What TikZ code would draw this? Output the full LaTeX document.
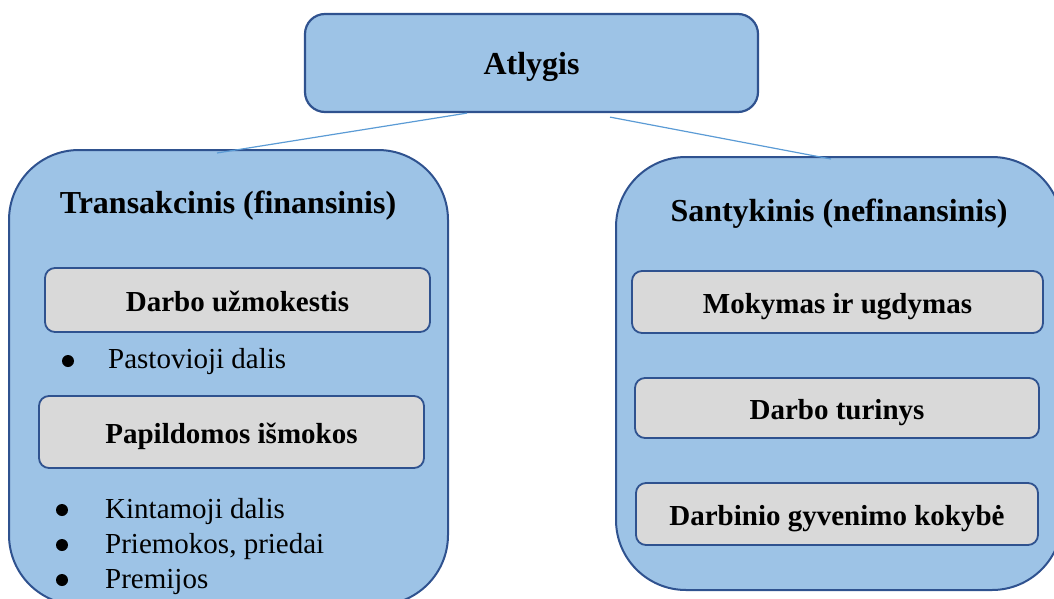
\documentclass[tikz,border=0pt]{standalone}
\usepackage{fontspec}
\setmainfont{Liberation Serif}
\usetikzlibrary{calc}
\definecolor{panelblue}{HTML}{9DC3E6}
\definecolor{edgeblue}{HTML}{2F528F}
\definecolor{linkblue}{HTML}{5B9BD5}
\definecolor{itemgray}{HTML}{D9D9D9}
\tikzset{
  panel/.style={draw=edgeblue, line width=2pt, fill=panelblue, rounded corners=70pt, inner sep=0pt},
  headbox/.style={draw=edgeblue, line width=2.2pt, fill=panelblue, rounded corners=20pt, inner sep=0pt,
    font=\fontsize{32}{38}\selectfont\bfseries, text height=24pt, text depth=0pt},
  itembox/.style={draw=edgeblue, line width=1.8pt, fill=itemgray, rounded corners=10pt, inner sep=0pt,
    font=\fontsize{29}{35}\selectfont\bfseries, text height=22pt, text depth=0pt},
  paneltitle/.style={anchor=base, inner sep=0pt, font=\fontsize{32}{38}\selectfont\bfseries},
  bulletmark/.style={circle, fill=black, inner sep=0pt, minimum size=12pt},
  bullettext/.style={anchor=base west, inner sep=0pt, font=\fontsize{29}{35}\selectfont},
  link/.style={draw=linkblue, line width=1.2pt}
}
\begin{document}
\begin{tikzpicture}[x=1pt, y=-1pt]
  \useasboundingbox (0,0) rectangle (1054,599);
  \clip (0,0) rectangle (1054,599);

  % top heading
  \node[headbox, minimum width=453pt, minimum height=98pt] (top) at (531.5,63) {Atlygis};

  % two large panels
  \node[panel, minimum width=439pt, minimum height=455pt] (left) at (228.5,377.5) {};
  \node[panel, minimum width=446pt, minimum height=433pt] (right) at (839,373.5) {};

  % connectors from the heading to the panels
  \draw[link] ($(top.south)+(-64.5,0)$) -- ($(left.north)+(-11.5,4)$);
  \draw[link] ($(top.south)+(78.5,4)$) -- ($(right.north)+(-8,3)$);

  % left panel: financial reward
  \node[paneltitle] (ltitle) at (228,213) {Transakcinis (finansinis)};
  \node[itembox, minimum width=385pt, minimum height=64pt] (pay) at (237.5,300) {Darbo užmokestis};
  \node[bulletmark] (b1) at (68,361) {};
  \node[bullettext] (t1) at (108,368) {Pastovioji dalis};
  \node[itembox, minimum width=385pt, minimum height=72pt] (extra) at (231.5,432) {Papildomos išmokos};
  \node[bulletmark] (b2) at (62,510) {};
  \node[bullettext] (t2) at (105,518) {Kintamoji dalis};
  \node[bulletmark] (b3) at (62,545) {};
  \node[bullettext] (t3) at (105,553) {Priemokos, priedai};
  \node[bulletmark] (b4) at (62,580) {};
  \node[bullettext] (t4) at (105,588) {Premijos};

  % right panel: non-financial reward
  \node[paneltitle] (rtitle) at (839,221) {Santykinis (nefinansinis)};
  \node[itembox, minimum width=411pt, minimum height=62pt] (train) at (837.5,302) {Mokymas ir ugdymas};
  \node[itembox, minimum width=404pt, minimum height=60pt] (content) at (837,408) {Darbo turinys};
  \node[itembox, minimum width=402pt, minimum height=62pt] (quality) at (837,514) {Darbinio gyvenimo kokybė};
\end{tikzpicture}
\end{document}
